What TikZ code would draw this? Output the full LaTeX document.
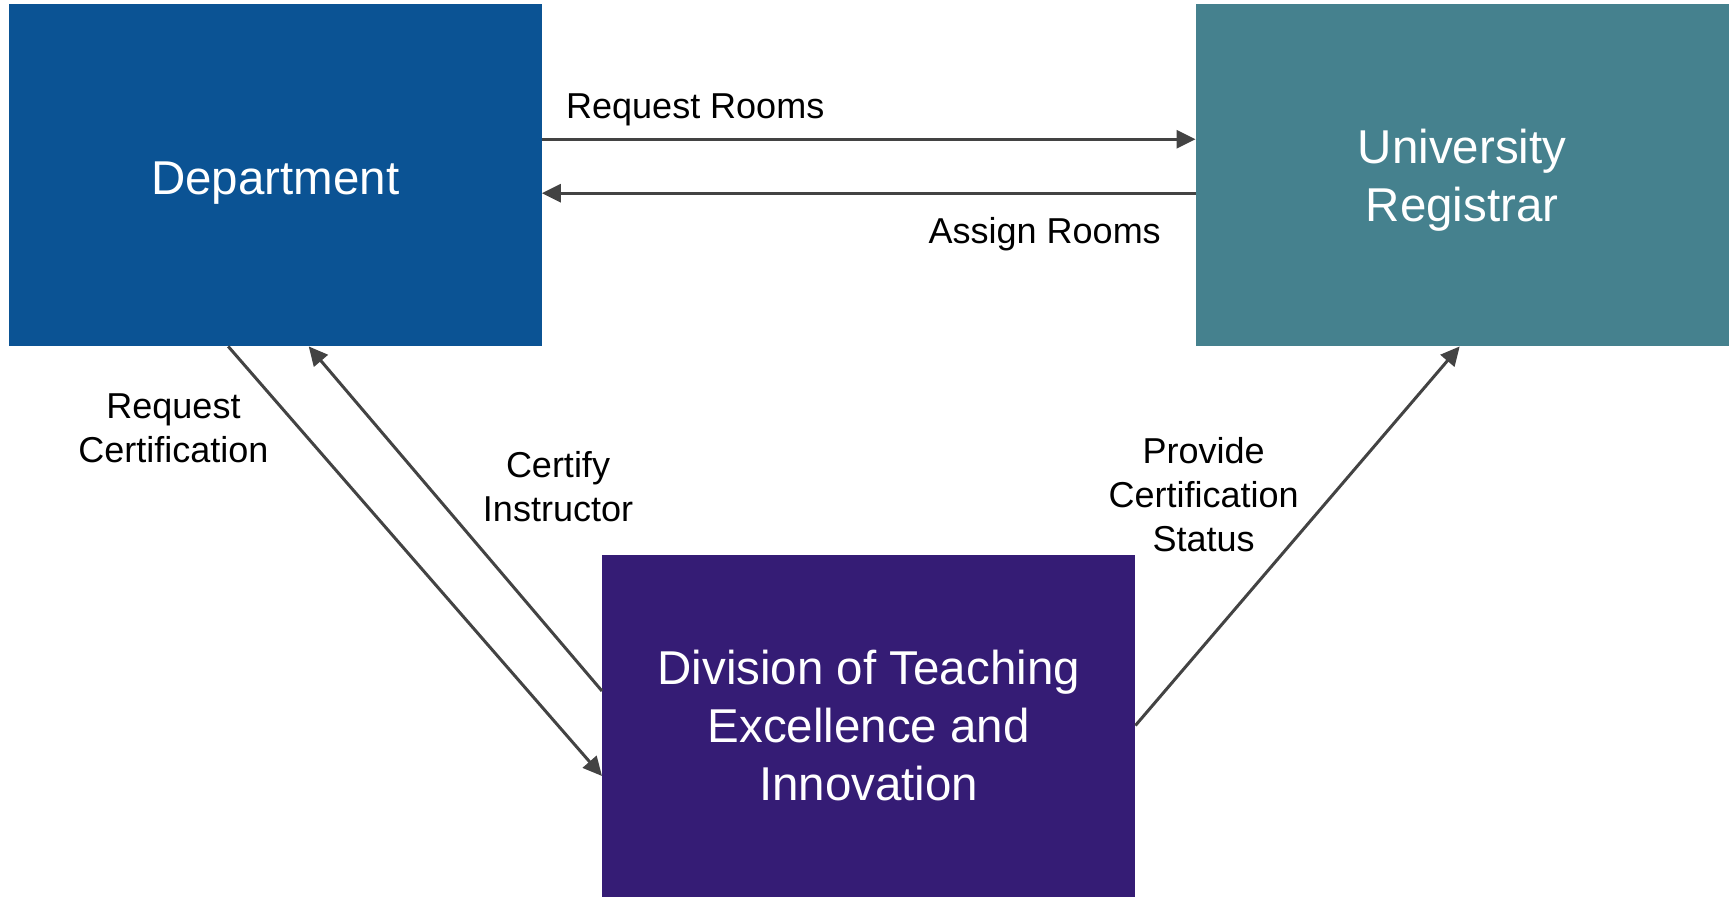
\documentclass[tikz,border=0pt]{standalone}
\usepackage{fontspec}
\setmainfont{Liberation Sans}
\usetikzlibrary{arrows.meta}
\definecolor{deptblue}{HTML}{0B5394}
\definecolor{regteal}{HTML}{45818E}
\definecolor{divpurple}{HTML}{351C75}
\definecolor{arrowgray}{HTML}{434343}
\begin{document}
\begin{tikzpicture}[x=1pt,y=-1pt,
  box/.style={rectangle, inner sep=0pt, minimum width=533pt, minimum height=342pt,
    text=white, align=center, font=\fontsize{47.5}{58}\selectfont},
  lbl/.style={inner sep=0pt, align=center, text=black, font=\fontsize{36}{44}\selectfont},
  conn/.style={draw=arrowgray, line width=3pt, -{Triangle[length=19pt,width=18pt]}}]
\useasboundingbox (0,0) rectangle (1733,898);
\node[box, fill=deptblue] (dept) at (275.2,175.2) {\rule{0pt}{47.5pt}Department};
\node[box, fill=regteal] (reg) at (1462.2,175.2) {\rule{0pt}{45pt}University\\Registrar};
\node[box, fill=divpurple] (div) at (868.7,725.5) {Division of Teaching\\Excellence and\\Innovation};

\draw[conn] ([yshift=36pt]dept.east) -- ([yshift=36pt]reg.west);
\draw[conn] ([yshift=-18pt]reg.west) -- ([yshift=-18pt]dept.east);
\draw[conn] ([xshift=-47pt]dept.south) -- ([yshift=-50.5pt]div.west);
\draw[conn] ([yshift=34.5pt]div.west) -- ([xshift=33.5pt]dept.south);
\draw[conn] (div.east) -- ([xshift=-2.5pt]reg.south);

\node[lbl, anchor=west] (lrr) at (566,109.4) {Request Rooms};
\node[lbl, anchor=east] (lar) at (1161,234.3) {Assign Rooms};
\node[lbl] (lrc) at (173.5,428.5) {Request\\Certification};
\node[lbl] (lci) at (558,487) {Certify\\Instructor};
\node[lbl] (lpc) at (1203.6,495) {Provide\\Certification\\Status};
\end{tikzpicture}
\end{document}
